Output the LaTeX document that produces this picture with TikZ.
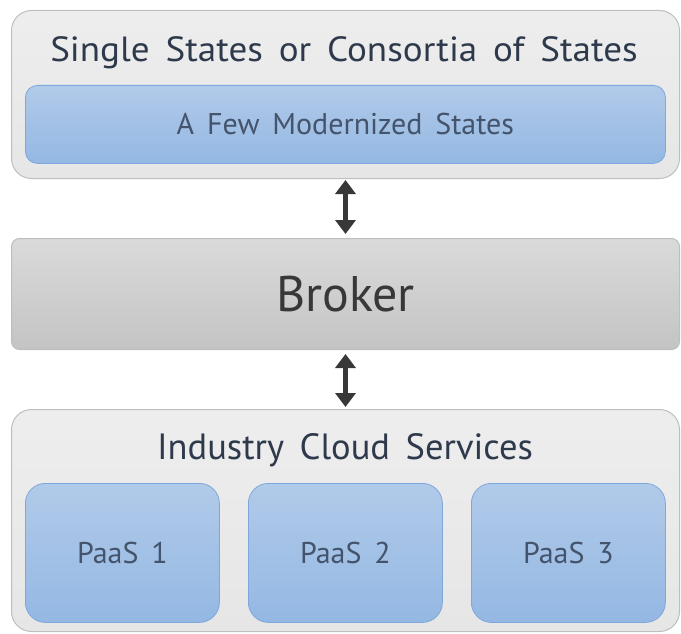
\documentclass[tikz,border=0pt]{standalone}
\usepackage{fontspec}
\setmainfont[WordSpace=1.6]{PT Sans}
\usetikzlibrary{arrows.meta}
\definecolor{outerfill}{HTML}{E6E6E6}
\definecolor{outerdraw}{HTML}{BEBEBE}
\definecolor{bluetop}{HTML}{B1CAE9}
\definecolor{bluebot}{HTML}{94B8E3}
\definecolor{bluedraw}{HTML}{7EA7DC}
\definecolor{brokertop}{HTML}{DADADA}
\definecolor{brokerbot}{HTML}{C4C4C4}
\definecolor{titletext}{HTML}{2E3A4C}
\definecolor{innertext}{HTML}{44546C}
\definecolor{arrowcol}{HTML}{383838}
\tikzset{
  outerbox/.style={draw=outerdraw, line width=1pt, top color=outerfill!70!white, bottom color=outerfill, rounded corners=20pt, anchor=north west, inner sep=0pt},
  bluebox/.style={draw=bluedraw, line width=0.8pt, top color=bluetop, bottom color=bluebot, anchor=north west, inner sep=0pt, text=innertext},
  brokerbox/.style={draw=outerdraw, line width=1pt, top color=brokertop, bottom color=brokerbot, rounded corners=8pt, anchor=north west, inner sep=0pt, text=arrowcol},
  linkarrow/.style={draw=arrowcol, line width=5pt, {Triangle[width=20pt,length=14pt]}-{Triangle[width=20pt,length=14pt]}},
  titletxt/.style={text=titletext, inner sep=0pt}
}
\begin{document}
\begin{tikzpicture}[x=1pt,y=-1pt]
\useasboundingbox (0,0) rectangle (681,634);
% top group
\node[outerbox, minimum width=668pt, minimum height=168pt] (top) at (11,10) {};
\node[titletxt, font=\fontsize{35}{40}\selectfont] (toptitle) at (344,53) {\scalebox{1.06}[1]{Single States or Consortia of States}};
\node[bluebox, rounded corners=12pt, minimum width=640pt, minimum height=78pt, font=\fontsize{30}{34}\selectfont] (few) at (25,85) {A Few Modernized States};
% broker
\node[brokerbox, minimum width=668pt, minimum height=111pt, font=\fontsize{50}{56}\selectfont] (broker) at (11,238) {Broker};
% bottom group
\node[outerbox, minimum width=668pt, minimum height=222pt] (bottom) at (11,409) {};
\node[titletxt, font=\fontsize{36.5}{40}\selectfont] (bottitle) at (345,450) {Industry Cloud Services};
\node[bluebox, rounded corners=20pt, minimum width=194pt, minimum height=139pt, font=\fontsize{30}{34}\selectfont] (p1) at (25,483) {PaaS 1};
\node[bluebox, rounded corners=20pt, minimum width=194pt, minimum height=139pt, font=\fontsize{30}{34}\selectfont] (p2) at (248,483) {PaaS 2};
\node[bluebox, rounded corners=20pt, minimum width=194pt, minimum height=139pt, font=\fontsize{30}{34}\selectfont] (p3) at (471,483) {PaaS 3};
% arrows
\draw[linkarrow, shorten <=1pt, shorten >=4pt] (top.south -| broker.north) -- (broker.north);
\draw[linkarrow, shorten <=4pt, shorten >=2pt] (broker.south) -- (bottom.north -| broker.south);
\end{tikzpicture}
\end{document}
